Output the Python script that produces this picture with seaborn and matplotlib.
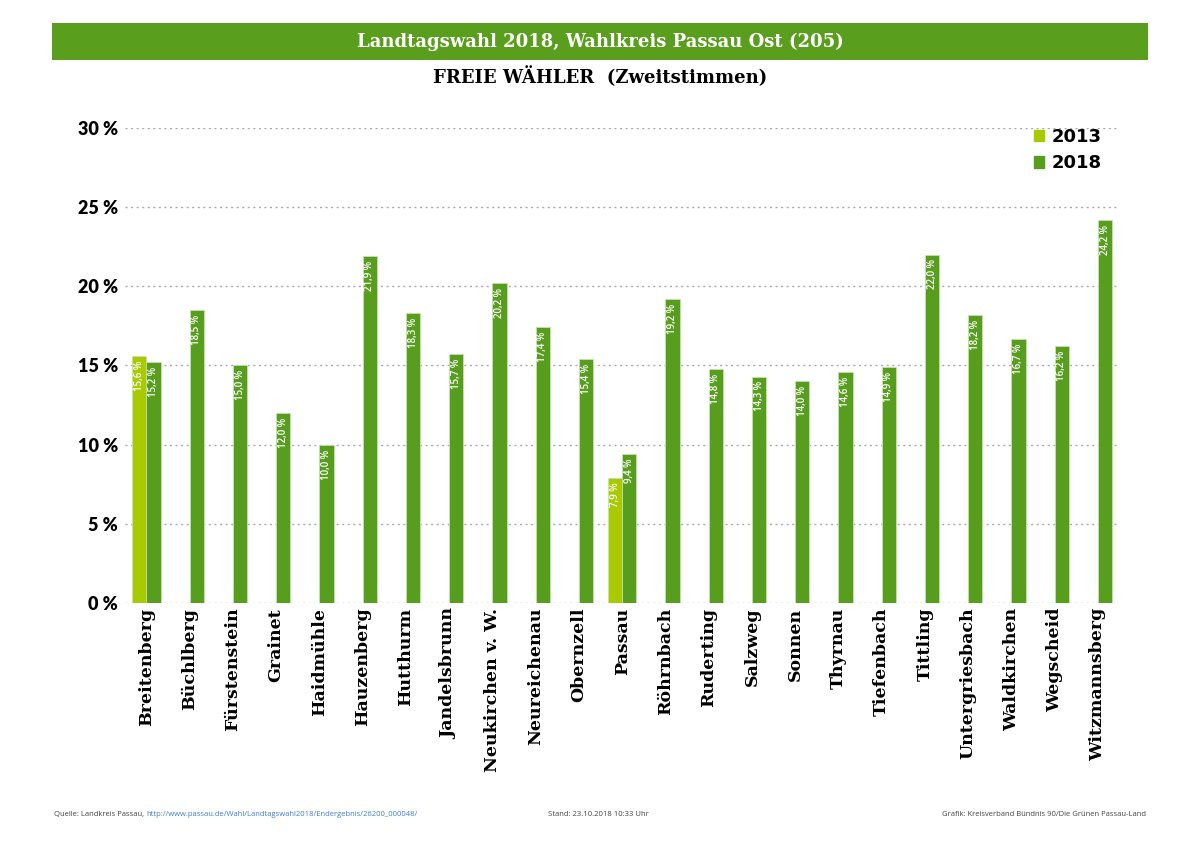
import pandas as pd
import matplotlib
matplotlib.use('Agg')
import matplotlib.pyplot as plt
import matplotlib.patches as mpatches
from matplotlib.ticker import FuncFormatter
import seaborn as sns

gemeinden = ['Breitenberg', 'Büchlberg', 'Fürstenstein', 'Grainet', 'Haidmühle',
             'Hauzenberg', 'Hutthurm', 'Jandelsbrunn', 'Neukirchen v. W.',
             'Neureichenau', 'Obernzell', 'Passau', 'Röhrnbach', 'Ruderting',
             'Salzweg', 'Sonnen', 'Thyrnau', 'Tiefenbach', 'Tittling',
             'Untergriesbach', 'Waldkirchen', 'Wegscheid', 'Witzmannsberg']

werte_2018 = [15.2, 18.5, 15.0, 12.0, 10.0, 21.9, 18.3, 15.7, 20.2, 17.4, 15.4,
              9.4, 19.2, 14.8, 14.3, 14.0, 14.6, 14.9, 22.0, 18.2, 16.7, 16.2, 24.2]

gemeinden_2013 = ['Breitenberg', 'Passau']
werte_2013 = [15.6, 7.9]

jahre = ['2013', '2018']
farben = {'2013': '#a9c900', '2018': '#589e1e'}


def daten_bauen():
    df13 = pd.DataFrame({'Gemeinde': gemeinden_2013, 'Jahr': '2013', 'Anteil': werte_2013})
    df18 = pd.DataFrame({'Gemeinde': gemeinden, 'Jahr': '2018', 'Anteil': werte_2018})
    return pd.concat([df13, df18], ignore_index=True)


def prozent(v):
    return f'{v:.1f}'.replace('.', ',') + ' %'


df = daten_bauen()

sns.set_style('white')
plt.rcParams['font.family'] = ['DejaVu Sans']

fig = plt.figure(figsize=(12, 8.48), dpi=100)
ax = fig.add_axes([0.104, 0.289, 0.829, 0.56])

sns.barplot(data=df, x='Gemeinde', y='Anteil', hue='Jahr', order=gemeinden,
            hue_order=jahre, palette=farben, width=0.66, errorbar=None,
            edgecolor='#c8e0b0', linewidth=0.6, saturation=1, ax=ax)

for cont in ax.containers:
    for patch, v in zip(cont.patches, cont.datavalues):
        ax.text(patch.get_x() + patch.get_width() / 2, v - 0.3, prozent(v),
                rotation=90, ha='center', va='top', color='white',
                fontsize=7, fontweight='semibold', family='Open Sans')

ax.set_ylim(0, 30)
ax.set_xlim(-0.5, 22.5)
ax.set_yticks(range(0, 31, 5))
ax.yaxis.set_major_formatter(FuncFormatter(lambda v, p: f'{int(v)} %'))
ax.grid(axis='y', color='#aaaaaa', linestyle=(0, (1.5, 2.5)), linewidth=1)
ax.set_axisbelow(True)
for s in ax.spines.values():
    s.set_visible(False)
ax.set_xlabel('')
ax.set_ylabel('')
ax.tick_params(axis='both', length=0)
ax.tick_params(axis='y', pad=5)
for lab in ax.get_yticklabels():
    lab.set_fontsize(13)
    lab.set_fontweight('heavy')
    lab.set_family('Lato')
    lab.set_color('black')
ax.set_xticks(range(len(gemeinden)))
ax.set_xticklabels(gemeinden, rotation=90, fontsize=12.5, fontweight='bold',
                   family='DejaVu Serif', va='top', color='black')

handles = [mpatches.Patch(color=farben[j], label=j) for j in jahre]
leg = ax.legend(handles=handles, loc='upper right', bbox_to_anchor=(0.982, 1.0),
                frameon=False, prop={'weight': 'bold', 'size': 13},
                handlelength=0.6, handleheight=0.6, handletextpad=0.4,
                labelspacing=0.45, borderaxespad=0, borderpad=0)
for t in leg.get_texts():
    t.set_color('black')

# Kopfzeile
fig.patches.append(mpatches.Rectangle((0.043, 0.929), 0.914, 0.044,
                                      transform=fig.transFigure,
                                      facecolor='#5a9e1e', edgecolor='none'))
fig.text(0.5, 0.951, 'Landtagswahl 2018, Wahlkreis Passau Ost (205)',
         ha='center', va='center', color='white', fontsize=13,
         fontweight='bold', family='DejaVu Serif')
fig.text(0.5, 0.909, 'FREIE WÄHLER  (Zweitstimmen)', ha='center', va='center',
         color='black', fontsize=13, fontweight='bold', family='DejaVu Serif')

# Fußzeile
fig.text(0.045, 0.039, 'Quelle: Landkreis Passau, ', ha='left', va='center',
         fontsize=5.5, color='#444444', family='Open Sans')
fig.text(0.122, 0.039, 'http://www.passau.de/Wahl/Landtagswahl2018/Endergebnis/26200_000048/',
         ha='left', va='center', fontsize=5.5, color='#3d7fd0', family='Open Sans')
fig.text(0.457, 0.039, 'Stand: 23.10.2018 10:33 Uhr', ha='left', va='center',
         fontsize=5.5, color='#444444', family='Open Sans')
fig.text(0.955, 0.039, 'Grafik: Kreisverband Bündnis 90/Die Grünen Passau-Land',
         ha='right', va='center', fontsize=5.5, color='#444444', family='Open Sans')

fig.savefig('out.png', dpi=100)
